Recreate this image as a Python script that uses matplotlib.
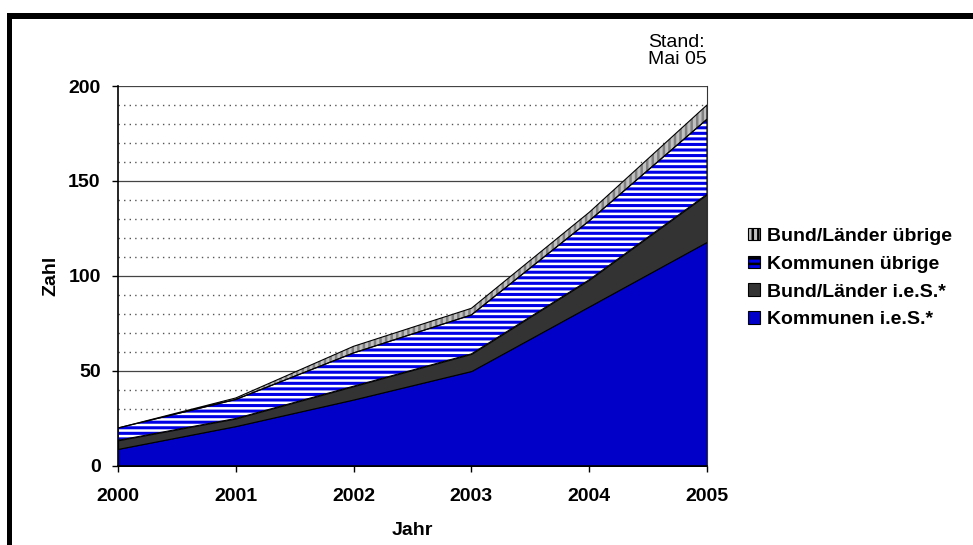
import numpy as np
import matplotlib
matplotlib.use("Agg")
import matplotlib.pyplot as plt
from matplotlib.patches import Patch, Rectangle

plt.rcParams["font.family"] = ["Liberation Sans", "DejaVu Sans"]
plt.rcParams["hatch.linewidth"] = 1.8

years = [2000, 2001, 2002, 2003, 2004, 2005]
kommunen_ies = [9, 21, 35, 50, 84, 118]
bund_laender_ies = [4.5, 4, 7, 9, 14, 25]
kommunen_uebrige = [6.5, 10, 17.5, 20.5, 31, 39.5]
bund_laender_uebrige = [0, 0.8, 3.5, 3.5, 4.5, 7.5]

labels = ["Kommunen i.e.S.*", "Bund/Länder i.e.S.*", "Kommunen übrige", "Bund/Länder übrige"]
series = [kommunen_ies, bund_laender_ies, kommunen_uebrige, bund_laender_uebrige]
faces = ["#0000c8", "#333333", "#0000e6", "#c0c0c0"]
hatch_col = [None, None, "white", "#808080"]
hatches = [None, None, "---", "|||"]

fig = plt.figure(figsize=(9.73, 5.45), dpi=100)
ax = fig.add_axes([0.1213, 0.1450, 0.6053, 0.6972])

# grid: dotted every 10, solid every 50
for v in range(10, 200, 10):
    if v % 50:
        ax.axhline(v, color="#555555", lw=1.0, ls=(0, (1, 3)), zorder=0)
for v in (50, 100, 150, 200):
    ax.axhline(v, color="#444444", lw=0.9, zorder=0)

x = np.array(years)
base = np.zeros(len(years))
handles = []
for vals, lab, fc, hc, h in zip(series, labels, faces, hatch_col, hatches):
    top = base + np.array(vals)
    if h:
        ax.fill_between(x, base, top, facecolor=fc, edgecolor=hc, hatch=h, lw=0, zorder=2)
        ax.fill_between(x, base, top, facecolor="none", edgecolor="black", lw=0.8, zorder=3)
        handles.append(Patch(facecolor=fc, edgecolor="black", hatch=h, lw=0.8))
    else:
        ax.fill_between(x, base, top, facecolor=fc, edgecolor="black", lw=0.8, zorder=2)
        handles.append(Patch(facecolor=fc, edgecolor="black", lw=0.8))
    base = top

ax.set_xlim(2000, 2005)
ax.set_ylim(0, 200)
ax.set_xticks(years)
ax.set_yticks([0, 50, 100, 150, 200])
ax.tick_params(direction="out", length=4.5, width=1, labelsize=14, pad=8)
ax.tick_params(axis="x", pad=11.5)
for t in ax.get_xticklabels() + ax.get_yticklabels():
    t.set_fontweight("bold")
ax.spines["top"].set_visible(False)
ax.spines["right"].set_color("#333333")
for s in ("left", "bottom"):
    ax.spines[s].set_linewidth(1.2)

ax.set_xlabel("Jahr", fontsize=14, fontweight="bold", labelpad=12)
ax.set_ylabel("Zahl", fontsize=14, fontweight="bold", labelpad=6)

fig.legend(handles[::-1], labels[::-1], loc="upper left", bbox_to_anchor=(0.769, 0.582),
           frameon=False, prop={"weight": "bold", "size": 14},
           handlelength=0.62, handleheight=0.62, handletextpad=0.35, labelspacing=0.55,
           borderaxespad=0, borderpad=0)

fig.text(648 / 973, 1 - 51 / 545, "Stand:\nMai 05", fontsize=14, ha="left", va="center",
         linespacing=1.0)

# black frame on top and left
fig.add_artist(Rectangle((7 / 973, 1 - 19 / 545), 1, 6 / 545, transform=fig.transFigure,
                         facecolor="black", edgecolor="none"))
fig.add_artist(Rectangle((7 / 973, 0), 5 / 973, 1 - 13 / 545, transform=fig.transFigure,
                         facecolor="black", edgecolor="none"))

fig.savefig("out.png", dpi=100)
